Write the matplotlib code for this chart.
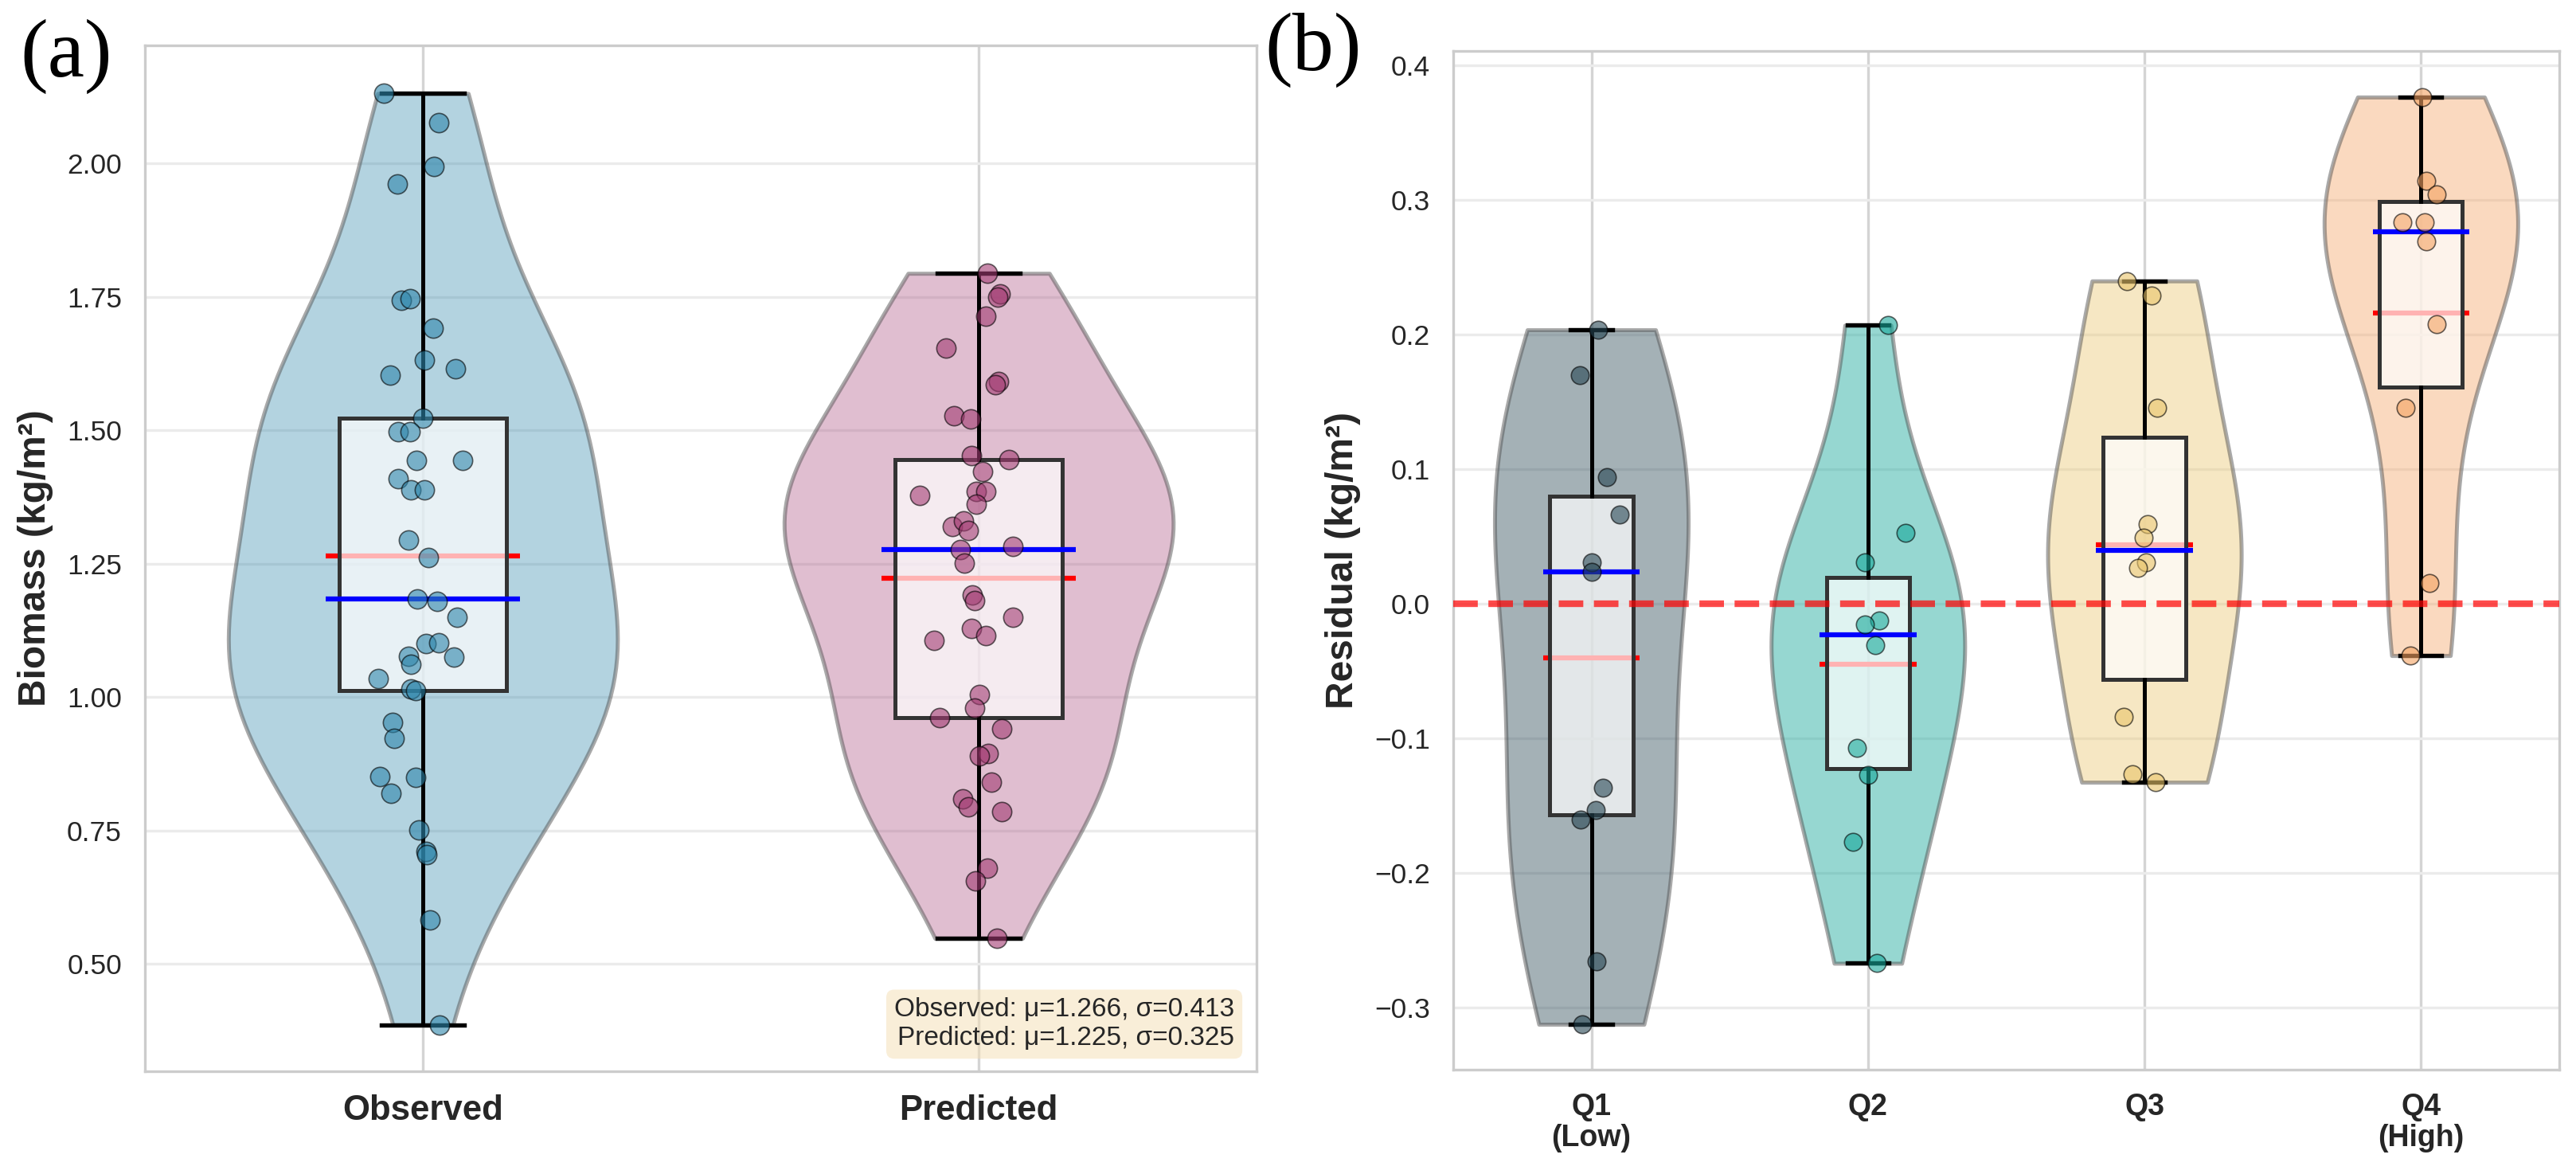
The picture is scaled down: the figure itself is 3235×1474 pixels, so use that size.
import numpy as np
import matplotlib
matplotlib.use('Agg')
import matplotlib.pyplot as plt
from matplotlib.colors import to_rgba
from matplotlib.ticker import MultipleLocator

plt.rcParams['font.family'] = ['Liberation Sans', 'DejaVu Sans']

# ---- panel (a): observed vs predicted biomass (kg/m2) ----
groups_a = ['Observed', 'Predicted']
observed = [2.131, 2.077, 1.994, 1.962, 1.743, 1.747, 1.691, 1.631, 1.615, 1.603,
            1.523, 1.498, 1.498, 1.444, 1.444, 1.410, 1.389, 1.388, 1.295, 1.262,
            1.184, 1.179, 1.150, 1.101, 1.102, 1.077, 1.075, 1.061, 1.035, 1.016,
            1.013, 0.952, 0.923, 0.851, 0.850, 0.820, 0.751, 0.711, 0.705, 0.582,
            0.386]
# horizontal jitter of each point
observed_jitter = [-0.070, 0.028, 0.020, -0.046, -0.039, -0.023, 0.018, 0.002, 0.059, -0.059,
                   0.000, -0.044, -0.023, -0.011, 0.072, -0.044, -0.021, 0.003, -0.026, 0.010,
                   -0.010, 0.025, 0.062, 0.006, 0.028, -0.026, 0.056, -0.022, -0.080, -0.021,
                   -0.013, -0.054, -0.052, -0.078, -0.013, -0.057, -0.008, 0.005, 0.007, 0.013,
                   0.030]
predicted = [1.794, 1.755, 1.750, 1.713, 1.654, 1.591, 1.585, 1.527, 1.521, 1.452,
             1.445, 1.423, 1.385, 1.385, 1.361, 1.378, 1.320, 1.330, 1.313, 1.276,
             1.282, 1.251, 1.191, 1.181, 1.149, 1.128, 1.116, 1.106, 1.005, 0.979,
             0.961, 0.940, 0.895, 0.890, 0.840, 0.809, 0.795, 0.785, 0.679, 0.656,
             0.548]
predicted_jitter = [0.016, 0.039, 0.034, 0.013, -0.059, 0.036, 0.030, -0.044, -0.015, -0.013,
                    0.055, 0.007, -0.004, 0.013, -0.004, -0.106, -0.048, -0.027, -0.018, -0.033,
                    0.062, -0.026, -0.012, -0.007, 0.062, -0.013, 0.013, -0.080, 0.002, -0.007,
                    -0.070, 0.042, 0.017, 0.002, 0.023, -0.029, -0.018, 0.042, 0.016, -0.006,
                    0.033]
stats_text = 'Observed: μ=1.266, σ=0.413\nPredicted: μ=1.225, σ=0.325'

# ---- panel (b): residuals by biomass quartile ----
quartile_labels = ['Q1\n(Low)', 'Q2', 'Q3', 'Q4\n(High)']
res_q1 = [0.2036, 0.1702, 0.0940, 0.0662, 0.0308, 0.0237, -0.1363, -0.1530, -0.1602, -0.2655, -0.3123]
res_q2 = [0.2070, 0.0529, 0.0306, -0.0126, -0.0150, -0.0308, -0.1068, -0.1273, -0.1769, -0.2670]
res_q3 = [0.2399, 0.2291, 0.1455, 0.0591, 0.0492, 0.0308, 0.0265, -0.0837, -0.1267, -0.1325]
res_q4 = [0.3765, 0.3141, 0.3042, 0.2835, 0.2835, 0.2693, 0.2079, 0.1455, 0.0152, -0.0384]
jit_q1 = [0.024, -0.043, 0.056, 0.103, 0.000, 0.000, 0.043, 0.017, -0.038, 0.020, -0.033]
jit_q2 = [0.073, 0.135, -0.010, 0.041, -0.012, 0.026, -0.040, 0.000, -0.055, 0.032]
jit_q3 = [-0.063, 0.026, 0.046, 0.012, -0.003, 0.007, -0.023, -0.074, -0.043, 0.040]
jit_q4 = [0.005, 0.020, 0.058, -0.066, 0.012, 0.020, 0.058, -0.057, 0.030, -0.038]

colors_a = ['#2E86AB', '#A23B72']
colors_b = ['#264653', '#17A89A', '#E9C46A', '#F4A261']
violin_alpha_a = [0.36, 0.33]
violin_alpha_b = [0.42, 0.45, 0.40, 0.40]

fig = plt.figure(figsize=(3235 / 300, 1474 / 300), dpi=300)
ax1 = fig.add_axes([0.0563, 0.0875, 0.4315, 0.8738])
ax2 = fig.add_axes([0.5641, 0.0889, 0.4294, 0.8680])


def draw_panel(ax, data, jitters, colors, valphas, s):
    pos = np.arange(len(data))
    vp = ax.violinplot(data, positions=pos, widths=0.7, showextrema=False)
    for body, c, a in zip(vp['bodies'], colors, valphas):
        body.set_alpha(None)  # violinplot fixes alpha at 0.3, drop it
        body.set_facecolor(to_rgba(c, a))
        body.set_edgecolor(to_rgba('#555555', 0.5))
        body.set_linewidth(1.2)
        body.set_zorder(1)
    ax.boxplot(data, positions=pos, widths=0.3, patch_artist=True, showfliers=False,
               boxprops=dict(facecolor=(1, 1, 1, 0.7), edgecolor='#333333', linewidth=1.2),
               whiskerprops=dict(color='black', linewidth=1.2),
               capprops=dict(color='black', linewidth=1.3),
               medianprops=dict(visible=False), zorder=3)
    for p, d, j, c in zip(pos, data, jitters, colors):
        # mean in red sits under the box face, median in blue on top
        ax.hlines(np.mean(d), p - 0.175, p + 0.175, color='red', lw=1.5, zorder=2.5)
        ax.hlines(np.median(d), p - 0.175, p + 0.175, color='blue', lw=1.5, zorder=4)
        ax.scatter(p + np.array(j), d, s=s, color=c, alpha=0.6,
                   edgecolors=to_rgba('black', 0.7), linewidths=0.4, zorder=5)
    ax.set_xlim(-0.5, len(data) - 0.5)
    ax.set_axisbelow(True)
    ax.grid(axis='x', color='#d4d4d4', lw=0.8)
    ax.grid(axis='y', color='#ebebeb', lw=0.8)
    for sp in ax.spines.values():
        sp.set_color('#cccccc')
        sp.set_linewidth(0.8)
    ax.tick_params(axis='both', length=0, pad=7, labelsize=8.5, labelcolor='#262626')


draw_panel(ax1, [observed, predicted], [observed_jitter, predicted_jitter],
           colors_a, violin_alpha_a, 34)
ax1.set_ylim(0.299, 2.221)
ax1.yaxis.set_major_locator(MultipleLocator(0.25))
ax1.yaxis.set_major_formatter(plt.FormatStrFormatter('%.2f'))
ax1.set_xticks([0, 1])
ax1.set_xticklabels(groups_a, fontsize=10.5, fontweight='bold')
ax1.set_ylabel('Biomass (kg/m²)', fontsize=11.5, fontweight='bold', color='#262626')
ax1.text(0.98, 0.02, stats_text, transform=ax1.transAxes, ha='right', va='bottom',
         fontsize=8, color='#262626', zorder=6,
         bbox=dict(boxstyle='round', facecolor=to_rgba('wheat', 0.5), edgecolor='none'))

draw_panel(ax2, [res_q1, res_q2, res_q3, res_q4], [jit_q1, jit_q2, jit_q3, jit_q4],
           colors_b, violin_alpha_b, 29)
ax2.axhline(0, color='red', ls='--', lw=2, alpha=0.7, zorder=3.5)
ax2.set_ylim(-0.346, 0.411)
ax2.yaxis.set_major_locator(MultipleLocator(0.1))
ax2.set_xticks(range(4))
ax2.set_xticklabels(quartile_labels, fontsize=9, fontweight='bold', linespacing=1.1)
ax2.set_ylabel('Residual (kg/m²)', fontsize=11.5, fontweight='bold', color='#262626')

fig.text(25 / 3235, 1 - 24 / 1474, '(a)', family='Liberation Serif', fontsize=25,
         ha='left', va='top')
fig.text(1588 / 3235, 1 - 16 / 1474, '(b)', family='Liberation Serif', fontsize=25,
         ha='left', va='top')

fig.savefig('out.png', dpi=300)
